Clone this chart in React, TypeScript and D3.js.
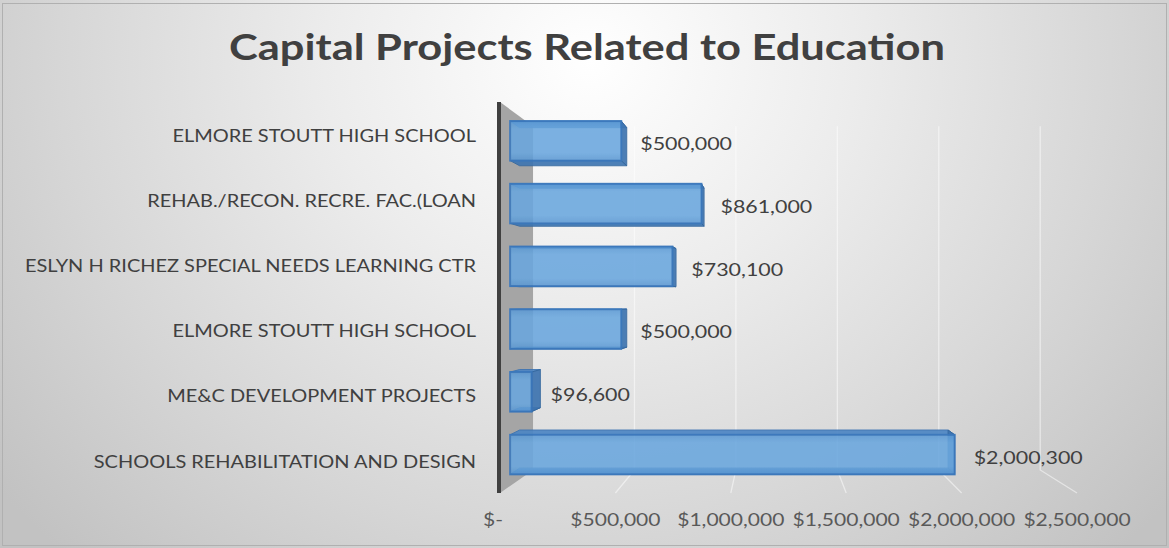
import React from "react";
import * as d3 from "d3";

const categories = [
  "ELMORE STOUTT HIGH SCHOOL ",
  "REHAB./RECON. RECRE. FAC.(LOAN",
  "ESLYN H RICHEZ SPECIAL NEEDS LEARNING CTR",
  "ELMORE STOUTT HIGH SCHOOL",
  "ME&C DEVELOPMENT PROJECTS",
  "SCHOOLS REHABILITATION AND DESIGN",
];
const values = [500000, 861000, 730100, 500000, 96600, 2000300];
const valueLabels = ["$500,000", "$861,000", "$730,100", "$500,000", "$96,600", "$2,000,300"];
const ticks = [0, 500000, 1000000, 1500000, 2000000, 2500000];
const tickLabels = ["$-", "$500,000", "$1,000,000", "$1,500,000", "$2,000,000", "$2,500,000"];
const title = "Capital Projects Related to Education";

const W = 1169;
const H = 548;
const FONT = "Lato, 'Open Sans', sans-serif";

// perspective setup
const VX = 773;
const VY = 303;
const S_BACK = 0.879;
const S_BAR_FRONT = 0.963;
const S_BAR_BACK = 0.928;

const x = d3.scaleLinear().domain([0, 2500000]).range([500, 1077]);
const y = d3
  .scaleBand<string>()
  .domain(categories.map((c, i) => i + ""))
  .range([102, 493])
  .paddingInner(0.37)
  .paddingOuter(0.185);

const proj = (X: number, Y: number, s: number): [number, number] => [
  VX + (X - VX) * s,
  VY + (Y - VY) * s,
];
const poly = (pts: [number, number][]) => "M" + pts.map((p) => p.join(",")).join("L") + "Z";

const T = (props: {
  x: number;
  y: number;
  size: number;
  sx: number;
  anchor?: string;
  weight?: string | number;
  fill?: string;
  children: React.ReactNode;
}) => (
  <text
    transform={`translate(${props.x},${props.y}) scale(${props.sx},1)`}
    textAnchor={props.anchor || "start"}
    dominantBaseline="central"
    fontFamily={FONT}
    fontSize={props.size}
    fontWeight={props.weight || "normal"}
    fill={props.fill || "#404040"}
  >
    {props.children}
  </text>
);

export default function App() {
  const yTop = 102;
  const yBot = 493;
  const wallFrontTop = proj(x(0), yTop, 1);
  const wallFrontBot = proj(x(0), yBot, 1);
  const wallBackTop = proj(x(0), yTop, S_BACK);
  const wallBackBot = proj(x(0), yBot, S_BACK);

  return (
    <svg width={W} height={H} style={{ position: "absolute", left: 0, top: 0 }}>
      <defs>
        <radialGradient id="bg" gradientUnits="userSpaceOnUse" cx={590} cy={60} r={760} gradientTransform="translate(590,60) scale(1,0.9) translate(-590,-60)">
          <stop offset="0%" stopColor="#ffffff" />
          <stop offset="35%" stopColor="#ececec" />
          <stop offset="70%" stopColor="#d6d6d6" />
          <stop offset="100%" stopColor="#c2c2c2" />
        </radialGradient>
        <linearGradient id="front" x1="0" y1="0" x2="0" y2="1">
          <stop offset="0%" stopColor="#5b99d4" />
          <stop offset="20%" stopColor="#6aa7de" />
          <stop offset="80%" stopColor="#6aa7de" />
          <stop offset="100%" stopColor="#5a97d2" />
        </linearGradient>
      </defs>
      <rect x={0} y={0} width={W} height={H} fill="url(#bg)" />
      <rect x={2.5} y={3.5} width={W - 5} height={H - 6} fill="none" stroke="#b0b0b0" strokeWidth={1} />

      <T x={587} y={46} size={37} sx={1.175} anchor="middle" weight="bold" fill="#404040">
        {title}
      </T>

      {/* side wall */}
      <path d={poly([wallFrontTop, wallBackTop, wallBackBot, wallFrontBot])} fill="#a5a5a5" />

      {/* gridlines: back wall + floor */}
      {ticks.slice(1).map((t, i) => {
        const a = proj(x(t), yTop, S_BACK);
        const b = proj(x(t), yBot, S_BACK);
        const c = proj(x(t), yBot, 1);
        return (
          <path
            key={i}
            d={`M${a[0]},${a[1]}L${b[0]},${b[1]}L${c[0]},${c[1]}`}
            fill="none"
            stroke="#ffffff"
            strokeWidth={1.3}
            opacity={0.5}
          />
        );
      })}

      {/* axis line */}
      <line
        x1={wallFrontTop[0] - 1}
        y1={wallFrontTop[1]}
        x2={wallFrontBot[0] - 1}
        y2={wallFrontBot[1]}
        stroke="#404040"
        strokeWidth={4}
      />

      {/* bars */}
      {values.map((v, i) => {
        const Y0 = y(i + "")!;
        const Y1 = Y0 + y.bandwidth();
        const X0 = x(0);
        const X1 = x(v);
        const f = (X: number, Y: number) => proj(X, Y, S_BAR_FRONT);
        const b = (X: number, Y: number) => proj(X, Y, S_BAR_BACK);
        const top = poly([f(X0, Y0), f(X1, Y0), b(X1, Y0), b(X0, Y0)]);
        const bottom = poly([f(X0, Y1), f(X1, Y1), b(X1, Y1), b(X0, Y1)]);
        const end = poly([f(X1, Y0), f(X1, Y1), b(X1, Y1), b(X1, Y0)]);
        const fr0 = f(X0, Y0);
        const fr1 = f(X1, Y1);
        const endF = f(X1, (Y0 + Y1) / 2);
        return (
          <g key={i}>
            <path d={top} fill="#4d86c4" stroke="#3a73b3" strokeWidth={1} opacity={0.92} />
            <path d={bottom} fill="#3f76b2" stroke="#35689f" strokeWidth={1} opacity={0.92} />
            <path d={end} fill="#3e74b0" stroke="#35689f" strokeWidth={1} opacity={0.92} />
            <rect
              x={fr0[0]}
              y={fr0[1]}
              width={fr1[0] - fr0[0]}
              height={fr1[1] - fr0[1]}
              fill="url(#front)"
              stroke="#3a78bd"
              strokeWidth={2}
              opacity={0.88}
            />
            <T x={endF[0] + 19} y={endF[1] + 2} size={18} sx={1.19} fill="#404040">
              {valueLabels[i]}
            </T>
          </g>
        );
      })}

      {/* category labels */}
      {categories.map((c, i) => (
        <T key={i} x={476} y={y(i + "")! + y.bandwidth() / 2} size={18} sx={1.11} anchor="end" fill="#404040">
          {c.trim()}
        </T>
      ))}

      {/* tick labels */}
      {ticks.map((t, i) => (
        <T key={i} x={x(t) - (i === 0 ? 7 : 0)} y={519} size={18} sx={1.17} anchor="middle" fill="#595959">
          {tickLabels[i]}
        </T>
      ))}
    </svg>
  );
}
